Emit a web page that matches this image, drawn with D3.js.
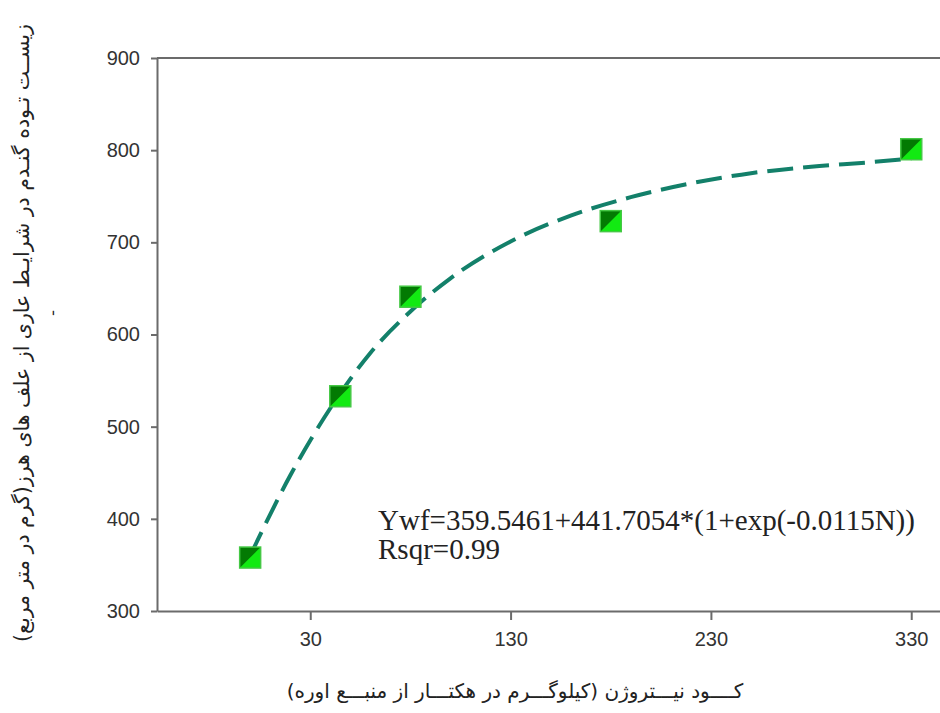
<!DOCTYPE html>
<html>
<head>
<meta charset="utf-8">
<script src="https://cdn.jsdelivr.net/npm/d3@7"></script>
<style>
  body { margin: 0; background: #fff; }
  svg { display: block; }
</style>
</head>
<body>
<div id="chart"></div>
<script>
// observed points (N in kg/ha, biomass)
var nitrogen = [0, 45, 80, 180, 330];
var biomass = [358, 533, 641, 723, 801];

// fitted curve
var curveN = [0, 20, 40, 60, 80, 100, 130, 160, 190, 220, 250, 280, 310, 330];
var curveY = [360, 447, 520, 580, 625, 661, 701, 729, 749, 764, 775, 782, 787, 791];

var xTicks = [30, 130, 230, 330];
var yTicks = [300, 400, 500, 600, 700, 800, 900];

var eqLine1 = "Ywf=359.5461+441.7054*(1+exp(-0.0115N))";
var eqLine2 = "Rsqr=0.99";
var xLabel = "کــــود نیـــتروژن (کیلوگـــرم در هکتـــار از منبـــع اوره)";
var yLabel = "زیســت تـوده گنـدم در شرایـط عاری از علف های هرز(گرم در متر مربع)";

function renderChart() {
    var width = 940, height = 713;
    var plotLeft = 157, plotTop = 58, plotBottom = 611;

    var x = d3.scaleLinear().domain([-46.5, 345]).range([plotLeft, plotLeft + 391.5 * 2.0033]);
    var y = d3.scaleLinear().domain([300, 900]).range([plotBottom, plotTop]);

    var svg = d3.select("#chart").append("svg")
        .attr("width", width)
        .attr("height", height);

    var axisColor = "#6b6b6b";

    // top frame line
    svg.append("line")
        .attr("x1", plotLeft).attr("x2", width)
        .attr("y1", plotTop).attr("y2", plotTop)
        .style("stroke", axisColor).style("stroke-width", 2);

    svg.append("g")
        .attr("class", "axis axis--y")
        .attr("transform", "translate(" + plotLeft + ",0)")
        .call(d3.axisLeft(y).tickValues(yTicks).tickSize(6).tickSizeOuter(0).tickPadding(11));

    svg.append("g")
        .attr("class", "axis axis--x")
        .attr("transform", "translate(0," + plotBottom + ")")
        .call(d3.axisBottom(x).tickValues(xTicks).tickSize(9).tickSizeOuter(0).tickPadding(12));

    svg.selectAll(".axis path, .axis line")
        .style("stroke", axisColor)
        .style("stroke-width", 2);
    svg.selectAll(".axis text")
        .style("font-family", "'Liberation Sans', Arial, sans-serif")
        .style("font-size", "20px")
        .style("fill", "#333");

    // dashed fitted line
    var line = d3.line()
        .x(function(d) { return x(d[0]); })
        .y(function(d) { return y(d[1]); })
        .curve(d3.curveMonotoneX);

    svg.append("path")
        .datum(curveN.map(function(n, i) { return [n, curveY[i]]; }))
        .attr("d", line)
        .style("fill", "none")
        .style("stroke", "#13806a")
        .style("stroke-width", 4)
        .style("stroke-dasharray", "26,10");

    // square markers, split diagonally
    var s = 21;
    var pts = svg.selectAll(".pt")
        .data(nitrogen.map(function(n, i) { return {n: n, v: biomass[i]}; }))
        .enter().append("g")
        .attr("class", "pt")
        .attr("transform", function(d) { return "translate(" + (x(d.n) - s / 2) + "," + (y(d.v) - s / 2) + ")"; });

    pts.append("rect")
        .attr("width", s).attr("height", s)
        .style("fill", "#12ea12");
    pts.append("path")
        .attr("d", "M0,0H" + s + "L0," + s + "Z")
        .style("fill", "#037a03");
    pts.append("rect")
        .attr("width", s).attr("height", s)
        .style("fill", "none")
        .style("stroke", "#45c845")
        .style("stroke-width", 1.5);

    // equation
    svg.append("text")
        .attr("x", 378).attr("y", 530)
        .style("font-family", "'Liberation Serif', 'Times New Roman', serif")
        .style("font-size", "29px")
        .style("fill", "#222")
        .text(eqLine1);
    svg.append("text")
        .attr("x", 378).attr("y", 559)
        .style("font-family", "'Liberation Serif', 'Times New Roman', serif")
        .style("font-size", "29px")
        .style("fill", "#222")
        .text(eqLine2);

    // axis titles
    svg.append("text")
        .attr("x", 515).attr("y", 698)
        .attr("text-anchor", "middle")
        .attr("direction", "rtl")
        .style("font-family", "'DejaVu Sans', sans-serif")
        .style("font-size", "20px")
        .style("fill", "#222")
        .text(xLabel);

    svg.append("text")
        .attr("transform", "translate(29,333) rotate(-90)")
        .attr("text-anchor", "middle")
        .attr("direction", "rtl")
        .style("font-family", "'DejaVu Sans', sans-serif")
        .style("font-size", "20.5px")
        .style("fill", "#222")
        .text(yLabel);

    svg.append("text")
        .attr("transform", "translate(54,313) rotate(-90)")
        .attr("text-anchor", "middle")
        .style("font-family", "'DejaVu Sans', sans-serif")
        .style("font-size", "14px")
        .style("fill", "#222")
        .text("ـ");
}

renderChart();
</script>
</body>
</html>
